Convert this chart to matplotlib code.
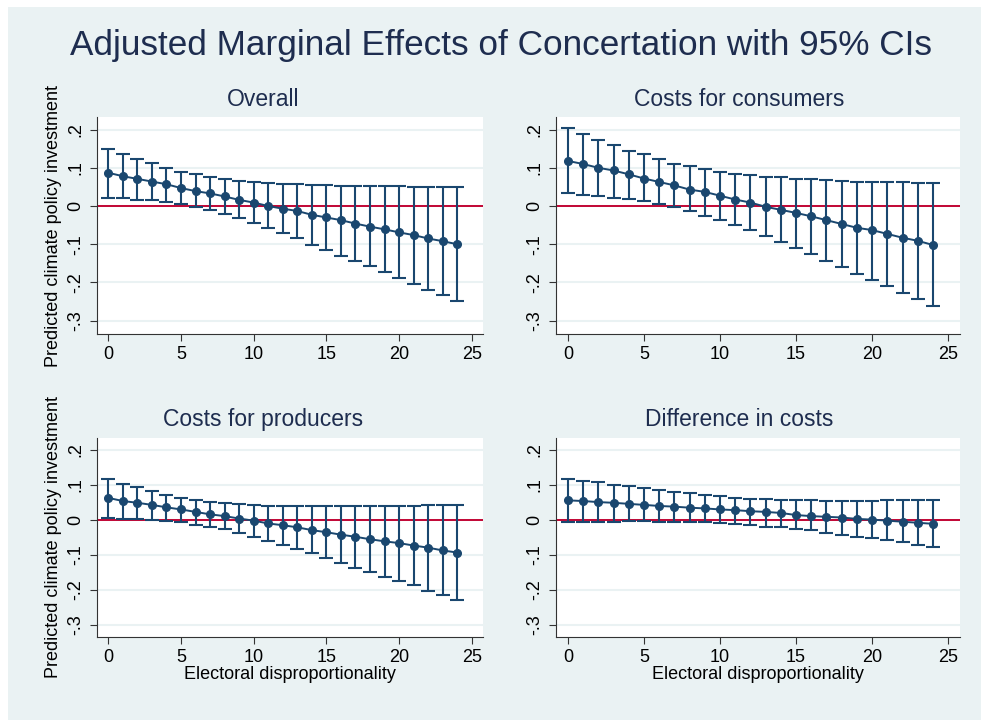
import numpy as np
import matplotlib
matplotlib.use("Agg")
import matplotlib.pyplot as plt
from matplotlib.patches import Rectangle

plt.rcParams['font.family'] = ['Liberation Sans', 'DejaVu Sans']

# electoral disproportionality values
x = list(range(25))

# Overall
overall_est = [0.087, 0.078, 0.071, 0.064, 0.057, 0.047, 0.039, 0.033, 0.025, 0.016,
               0.009, 0.000, -0.007, -0.013, -0.023, -0.030, -0.037, -0.046, -0.054, -0.061,
               -0.069, -0.076, -0.085, -0.092, -0.100]
overall_hi = [0.149, 0.137, 0.123, 0.112, 0.100, 0.090, 0.083, 0.077, 0.071, 0.066,
              0.062, 0.059, 0.057, 0.057, 0.055, 0.055, 0.053, 0.053, 0.053, 0.053,
              0.053, 0.050, 0.050, 0.050, 0.050]
overall_lo = [0.022, 0.020, 0.017, 0.016, 0.010, 0.005, -0.003, -0.010, -0.021, -0.032,
              -0.045, -0.057, -0.071, -0.085, -0.101, -0.115, -0.130, -0.143, -0.157, -0.172,
              -0.189, -0.203, -0.219, -0.234, -0.249]

# Costs for consumers
consumers_est = [0.118, 0.110, 0.100, 0.093, 0.083, 0.072, 0.063, 0.054, 0.043, 0.037,
                 0.027, 0.017, 0.009, -0.002, -0.010, -0.018, -0.027, -0.037, -0.047, -0.057,
                 -0.063, -0.073, -0.083, -0.091, -0.102]
consumers_hi = [0.205, 0.188, 0.174, 0.160, 0.145, 0.135, 0.123, 0.111, 0.104, 0.097,
                0.090, 0.085, 0.080, 0.077, 0.076, 0.070, 0.070, 0.068, 0.066, 0.063,
                0.063, 0.062, 0.062, 0.060, 0.060]
consumers_lo = [0.035, 0.030, 0.027, 0.022, 0.018, 0.013, 0.005, -0.003, -0.014, -0.025,
                -0.037, -0.050, -0.063, -0.078, -0.095, -0.109, -0.126, -0.143, -0.160, -0.177,
                -0.194, -0.210, -0.228, -0.244, -0.263]

# Costs for producers
producers_est = [0.062, 0.053, 0.048, 0.042, 0.035, 0.029, 0.022, 0.015, 0.010, 0.003,
                 -0.003, -0.011, -0.016, -0.022, -0.030, -0.036, -0.043, -0.049, -0.056, -0.062,
                 -0.067, -0.074, -0.080, -0.088, -0.094]
producers_hi = [0.116, 0.103, 0.092, 0.081, 0.070, 0.063, 0.055, 0.050, 0.047, 0.044,
                0.041, 0.039, 0.039, 0.039, 0.039, 0.039, 0.039, 0.039, 0.039, 0.039,
                0.039, 0.039, 0.041, 0.041, 0.041]
producers_lo = [0.005, 0.002, 0.002, 0.000, -0.003, -0.006, -0.014, -0.021, -0.027, -0.038,
                -0.049, -0.062, -0.072, -0.085, -0.096, -0.109, -0.123, -0.137, -0.150, -0.163,
                -0.176, -0.188, -0.203, -0.215, -0.230]

# Difference in costs
diff_est = [0.055, 0.053, 0.050, 0.048, 0.045, 0.042, 0.039, 0.037, 0.034, 0.032,
            0.029, 0.027, 0.024, 0.022, 0.019, 0.013, 0.010, 0.008, 0.006, 0.002,
            0.000, -0.003, -0.006, -0.009, -0.012]
diff_hi = [0.116, 0.111, 0.106, 0.100, 0.095, 0.090, 0.085, 0.080, 0.075, 0.070,
           0.067, 0.063, 0.060, 0.058, 0.055, 0.055, 0.055, 0.053, 0.053, 0.053,
           0.053, 0.055, 0.055, 0.055, 0.055]
diff_lo = [-0.006, -0.006, -0.006, -0.006, -0.004, -0.004, -0.006, -0.006, -0.006, -0.008,
           -0.011, -0.013, -0.016, -0.020, -0.022, -0.027, -0.031, -0.038, -0.043, -0.049,
           -0.053, -0.058, -0.065, -0.072, -0.078]

titles = ["Overall", "Costs for consumers", "Costs for producers", "Difference in costs"]
y_ticks = [-0.3, -0.2, -0.1, 0, 0.1, 0.2]
y_ticklabels = ["-.3", "-.2", "-.1", "0", ".1", ".2"]
x_ticks = [0, 5, 10, 15, 20, 25]

bg = '#eaf2f3'
navy = '#1a476f'
textcol = '#1e2d4f'

fig = plt.figure(figsize=(9.81, 7.2), dpi=100)
fig.patch.set_facecolor('white')
fig.patches.append(Rectangle((8 / 981, 0), 1, 1 - 7 / 720, transform=fig.transFigure,
                             facecolor=bg, edgecolor='none', zorder=-10))

fig.text(0.511, 0.937, "Adjusted Marginal Effects of Concertation with 95% CIs",
         ha='center', va='center', fontsize=25.3, color=textcol)

positions = [
    [0.0989, 0.5361, 0.3935, 0.3014],
    [0.5668, 0.5361, 0.4118, 0.3014],
    [0.0989, 0.1153, 0.3935, 0.2764],
    [0.5668, 0.1153, 0.4118, 0.2764],
]
# subgraph title centres (whole subgraph, not plot region)
title_xy = [(0.268, 0.8625), (0.754, 0.8625), (0.268, 0.4167), (0.754, 0.4167)]
data = [
    (overall_est, overall_lo, overall_hi),
    (consumers_est, consumers_lo, consumers_hi),
    (producers_est, producers_lo, producers_hi),
    (diff_est, diff_lo, diff_hi),
]

for i, (pos, (est, lo, hi)) in enumerate(zip(positions, data)):
    ax = fig.add_axes(pos)
    ax.set_facecolor('white')
    est = np.array(est)
    err = [est - np.array(lo), np.array(hi) - est]
    for t in y_ticks:
        ax.axhline(t, color=bg, lw=1.5, zorder=0)
    ax.axhline(0, color='#c10534', lw=1.4, zorder=1)
    ax.errorbar(x, est, yerr=err, fmt='-o', color=navy, ecolor=navy, elinewidth=1.5,
                capsize=5, capthick=1.5, markersize=5.5, lw=1.4, zorder=3)
    ax.set_xlim(-0.78, 25.78)
    ax.set_ylim(-0.335, 0.233)
    ax.set_xticks(x_ticks)
    ax.set_yticks(y_ticks)
    ax.set_yticklabels(y_ticklabels, rotation=90, va='center')
    ax.tick_params(axis='both', labelsize=13, color='#333333', length=5, width=0.8)
    ax.tick_params(axis='y', pad=4)
    for s in ['top', 'right']:
        ax.spines[s].set_visible(False)
    for s in ['left', 'bottom']:
        ax.spines[s].set_color('#333333')
        ax.spines[s].set_linewidth(0.8)
    fig.text(title_xy[i][0], title_xy[i][1], titles[i], ha='center', va='center',
             fontsize=16.5, color=textcol)
    if i in (0, 2):
        ax.set_ylabel("Predicted climate policy investment", fontsize=13)
        ax.yaxis.set_label_coords(-0.092, 0.5)
    if i in (2, 3):
        ax.set_xlabel("Electoral disproportionality", fontsize=13)
        ax.xaxis.set_label_coords(0.5, -0.146)

fig.savefig("out.png", dpi=100, facecolor=fig.get_facecolor())
